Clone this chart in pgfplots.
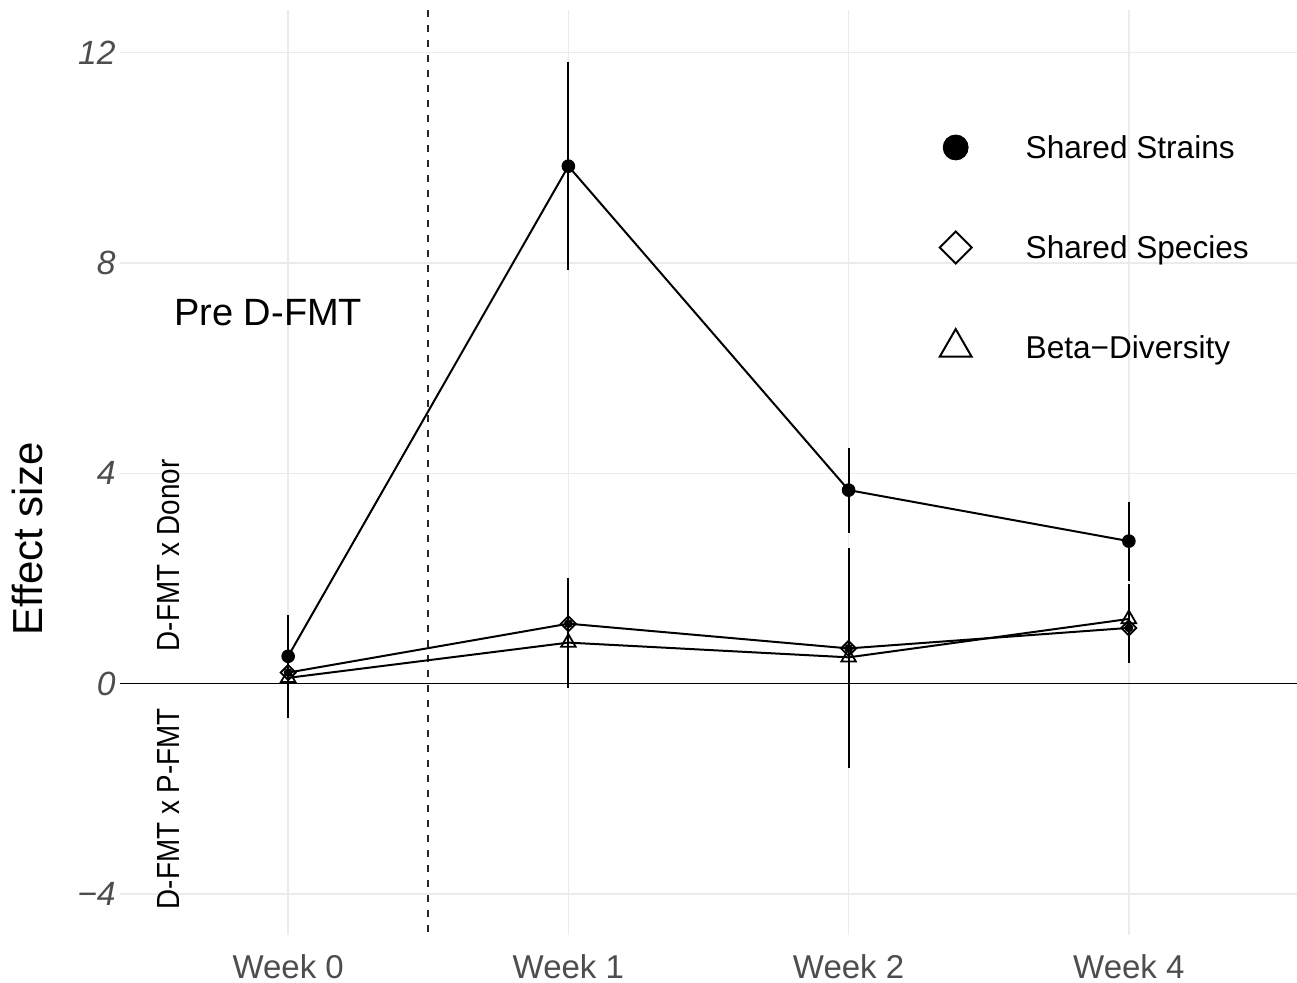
\documentclass[border=0pt]{standalone}
\usepackage{pgfplots}
\pgfplotsset{compat=1.18}
\usepackage{fontspec}
\setmainfont{Liberation Sans}
\usepackage{graphicx}
\definecolor{gridgray}{HTML}{EBEBEB}
\definecolor{ticklab}{HTML}{4D4D4D}
\pgfdeclareplotmark{gdiamond}{%
  \pgfpathmoveto{\pgfqpoint{0pt}{\pgfplotmarksize}}%
  \pgfpathlineto{\pgfqpoint{\pgfplotmarksize}{0pt}}%
  \pgfpathlineto{\pgfqpoint{0pt}{-\pgfplotmarksize}}%
  \pgfpathlineto{\pgfqpoint{-\pgfplotmarksize}{0pt}}%
  \pgfpathclose\pgfusepathqstroke}
\pgfplotstableread{
x y
0 0.52
1 9.84
2 3.68
3 2.71
}\strains
\pgfplotstableread{
x y
0 0.21
1 1.14
2 0.67
3 1.06
}\species
\pgfplotstableread{
x y
0 0.11
1 0.78
2 0.50
3 1.23
}\beta
\pgfplotstableread{
x y ep em
0 0.52 0.78 0.78
1 9.84 1.98 1.98
2 3.68 0.81 0.82
3 2.71 0.74 0.76
}\strainserr
\pgfplotstableread{
x y ep em
0 0.21 0.60 0.86
1 1.14 0.86 1.22
2 0.67 1.91 2.27
3 1.06 0.83 0.67
}\specieserr
\begin{document}
\begin{tikzpicture}
\path[use as bounding box] (-60bp,-24bp) rectangle (588.5bp,467.5bp);
\begin{axis}[
  at={(0,0)}, anchor=south west,
  scale only axis, width=588.5bp, height=462.5bp,
  xmin=-0.6, xmax=3.6, ymin=-4.78, ymax=12.81,
  xtick={0,1,2,3}, xticklabels={Week 0,Week 1,Week 2,Week 4},
  ytick={-4,0,4,8,12}, yticklabels={−4,0,4,8,12},
  axis line style={draw=none},
  major tick length=0pt,
  grid=major,
  major grid style={draw=gridgray, line width=0.75bp},
  tick label style={text=ticklab, font=\fontsize{16.5bp}{18bp}\selectfont},
  xticklabel style={inner sep=0pt, anchor=north, yshift=-9.5bp},
  yticklabel style={inner sep=0pt, anchor=east, xshift=-2bp, font=\fontsize{16.8bp}{18bp}\selectfont\itshape},
  ylabel={Effect size},
  ylabel style={at={(axis description cs:-0.0786,0.428)}, anchor=center, inner sep=0pt, font=\fontsize{21bp}{24bp}\selectfont},
  clip=false,
  legend cell align=left,
  legend style={at={(axis cs:2.325,10.50)}, anchor=north west, draw=none, fill=none,
    inner sep=0pt, outer sep=0pt, column sep=0pt, row sep=34bp,
    font=\fontsize{15.8bp}{18bp}\selectfont, nodes={inner sep=0pt, text height=11.3bp, text depth=0pt}},
]
% reference lines
\draw[black, line width=0.8bp] (axis cs:-0.6,0) -- (axis cs:3.6,0);
\draw[black!85, line width=1bp, dash pattern=on 3.5bp off 4bp] (axis cs:0.5,12.81) -- (axis cs:0.5,-4.78);
% error bars
\addplot[forget plot, only marks, mark=none, black,
  error bars/.cd, y dir=both, y explicit, error mark=none,
  error bar style={line width=1.05bp, black}]
  table[x=x, y=y, y error plus=ep, y error minus=em] {\strainserr};
\addplot[forget plot, only marks, mark=none, black,
  error bars/.cd, y dir=both, y explicit, error mark=none,
  error bar style={line width=1.05bp, black}]
  table[x=x, y=y, y error plus=ep, y error minus=em] {\specieserr};
% lines and points
\addplot[forget plot, black, line width=1bp, mark=*, mark size=2.9bp, mark options={fill=black, solid}] table[x=x,y=y] {\strains};
\addplot[forget plot, black, line width=1bp, mark=gdiamond, mark size=3.75bp, mark options={solid, line width=0.9bp}] table[x=x,y=y] {\species};
\addplot[forget plot, black, line width=1bp, mark=triangle, mark size=4.2bp, mark options={solid, line width=0.9bp}] table[x=x,y=y] {\beta};
% legend
\addlegendimage{legend image code/.code={\path[draw=none, fill=none] (-8bp,-8bp) rectangle (35bp,8bp); \fill[black, overlay] (0,0) circle (6.25bp);}}
\addlegendentry{Shared Strains}
\addlegendimage{legend image code/.code={\path[draw=none, fill=none] (-8bp,-8bp) rectangle (35bp,8bp); \draw[black, line width=1bp, overlay] (0,8bp) -- (8bp,0) -- (0,-8bp) -- (-8bp,0) -- cycle;}}
\addlegendentry{Shared Species}
\addlegendimage{legend image code/.code={\path[draw=none, fill=none] (-8bp,-8bp) rectangle (35bp,8bp); \draw[black, line width=1bp, overlay] (0,9.2bp) -- (7.97bp,-4.6bp) -- (-7.97bp,-4.6bp) -- cycle;}}
\addlegendentry{Beta−Diversity}
% annotations
\node[font=\fontsize{19bp}{22bp}\selectfont, inner sep=0pt, anchor=center] at (axis cs:-0.071,7.06) {Pre D-FMT};
\node[rotate=90, anchor=west, inner sep=0pt, font=\fontsize{16bp}{18bp}\selectfont] at (axis cs:-0.427,0.61) {\scalebox{0.87}[1]{D-FMT x Donor}};
\node[rotate=90, anchor=east, inner sep=0pt, font=\fontsize{16bp}{18bp}\selectfont] at (axis cs:-0.427,-0.46) {\scalebox{0.87}[1]{D-FMT x P-FMT}};
\end{axis}
\end{tikzpicture}
\end{document}
